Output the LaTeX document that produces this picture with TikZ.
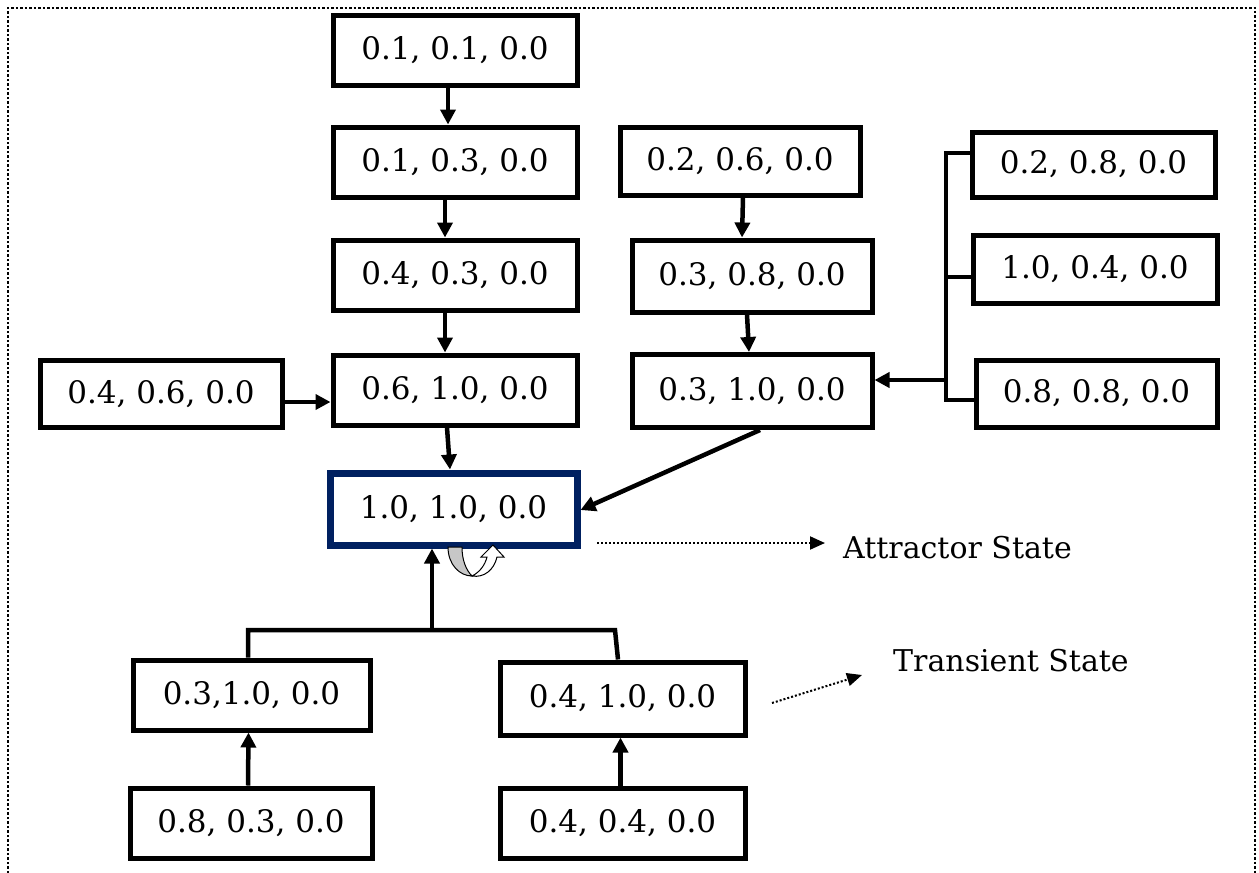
\documentclass[tikz,border=0pt]{standalone}
\usepackage{fontspec}
\setmainfont{DejaVu Serif}
\usetikzlibrary{arrows.meta}
\definecolor{navy}{RGB}{0,32,96}
\begin{document}
\begin{tikzpicture}[x=1pt,y=-1pt,
  box/.style={draw=black,line width=5pt,rectangle,inner sep=0pt,fill=white,
    font=\fontsize{31}{37}\selectfont},
  attr/.style={box,draw=navy,line width=7pt},
  conn/.style={line width=4.5pt,line join=miter},
  arr/.style={conn,-{Triangle[length=15pt,width=15pt]}},
  dotarr/.style={line width=2pt,dash pattern=on 2pt off 2pt,-{Triangle[length=15pt,width=13pt]}},
  lbl/.style={anchor=west,inner sep=0pt,font=\fontsize{30}{36}\selectfont}]
\useasboundingbox (0,0) rectangle (1259,873);
\draw[line width=2.5pt,dash pattern=on 2.5pt off 2pt] (8,873) -- (8,8) -- (1255,8) -- (1255,873);

\node[box,minimum width=244pt,minimum height=70pt] (n1) at (455,50) {0.1, 0.1, 0.0};
\node[box,minimum width=244pt,minimum height=70pt] (n2) at (455,162) {0.1, 0.3, 0.0};
\node[box,minimum width=244pt,minimum height=70pt] (n3) at (455,275) {0.4, 0.3, 0.0};
\node[box,minimum width=244pt,minimum height=70pt] (n4) at (455,390) {0.6, 1.0, 0.0};
\node[box,minimum width=242pt,minimum height=67pt] (n5) at (161,394) {0.4, 0.6, 0.0};
\node[attr,minimum width=247pt,minimum height=72pt] (n6) at (453.5,509) {1.0, 1.0, 0.0};
\node[box,minimum width=240pt,minimum height=68pt] (n7) at (740,161) {0.2, 0.6, 0.0};
\node[box,minimum width=240pt,minimum height=72pt] (n8) at (752,276) {0.3, 0.8, 0.0};
\node[box,minimum width=240pt,minimum height=73pt] (n9) at (752,391) {0.3, 1.0, 0.0};
\node[box,minimum width=243pt,minimum height=65pt] (n10) at (1093.5,164.5) {0.2, 0.8, 0.0};
\node[box,minimum width=244pt,minimum height=68pt] (n11) at (1095,269) {1.0, 0.4, 0.0};
\node[box,minimum width=241pt,minimum height=67pt] (n12) at (1096.5,393.5) {0.8, 0.8, 0.0};
\node[box,minimum width=237pt,minimum height=70pt] (n13) at (251.5,695) {0.3,1.0, 0.0};
\node[box,minimum width=245pt,minimum height=73pt] (n14) at (622.5,698.5) {0.4, 1.0, 0.0};
\node[box,minimum width=242pt,minimum height=70pt] (n15) at (251,823) {0.8, 0.3, 0.0};
\node[box,minimum width=245pt,minimum height=70pt] (n16) at (622.5,823) {0.4, 0.4, 0.0};

% left column
\draw[arr] ([xshift=-7pt]n1.south) -- ([xshift=-7pt]n2.north);
\draw[arr] ([xshift=-10pt]n2.south) -- ([xshift=-10pt]n3.north);
\draw[arr] ([xshift=-10pt]n3.south) -- ([xshift=-10pt]n4.north);
\draw[arr] ([xshift=-8pt]n4.south) -- ([xshift=-3.5pt]n6.north);
\draw[arr] ([yshift=-8pt]n5.east) -- ([yshift=-12pt]n4.west);

% middle column
\draw[arr] ([xshift=3pt]n7.south) -- ([xshift=-10pt]n8.north);
\draw[arr] ([xshift=-5pt]n8.south) -- ([xshift=-3pt]n9.north);
\draw[arr] ([xshift=8pt]n9.south) -- ([yshift=-1pt]n6.east);

% right bracket
\coordinate (rt) at (946,153);
\coordinate (rm) at (946,277);
\coordinate (rb) at (946,400);
\coordinate (ra) at (946,380);
\draw[conn] (rt -| n10.west) -- (rt) -- (rb) -- (rb -| n12.west);
\draw[conn] (rm) -- (rm -| n11.west);
\draw[arr] (ra) -- (ra -| n9.east);

% bottom bracket
\coordinate (bl) at (248,630);
\coordinate (br) at (615,630);
\coordinate (bc) at (432,630);
\draw[conn] ([xshift=-3.5pt]n13.north) -- (bl) -- (br) -- ([xshift=-4.5pt]n14.north);
\draw[arr] (bc) -- (bc |- n6.south);
\draw[arr] ([xshift=-3pt]n15.north) -- ([xshift=-3pt]n13.south);
\draw[arr] ([xshift=-2pt]n16.north) -- ([xshift=-2pt]n14.south);

% self loop
\filldraw[fill=black!22,line width=1pt] (448,547) .. controls (448,565) and (460,576) .. (472,576)
  .. controls (466,570) and (462,560) .. (462,547) -- cycle;
\filldraw[fill=white,line width=1pt] (472,576) .. controls (480,572) and (485,565) .. (487,557)
  -- (481,557) -- (493,545) -- (504,557) -- (497,557)
  .. controls (494,570) and (484,578) .. (472,576) -- cycle;

% legend
\node[lbl] (la) at (843,548) {Attractor State};
\node[lbl] (lt) at (893,661) {Transient State};
\coordinate (da) at (597,543);
\coordinate (dt) at (772,703);
\draw[dotarr] (da) -- (825,543);
\draw[dotarr] (dt) -- (862,675);
\end{tikzpicture}
\end{document}
